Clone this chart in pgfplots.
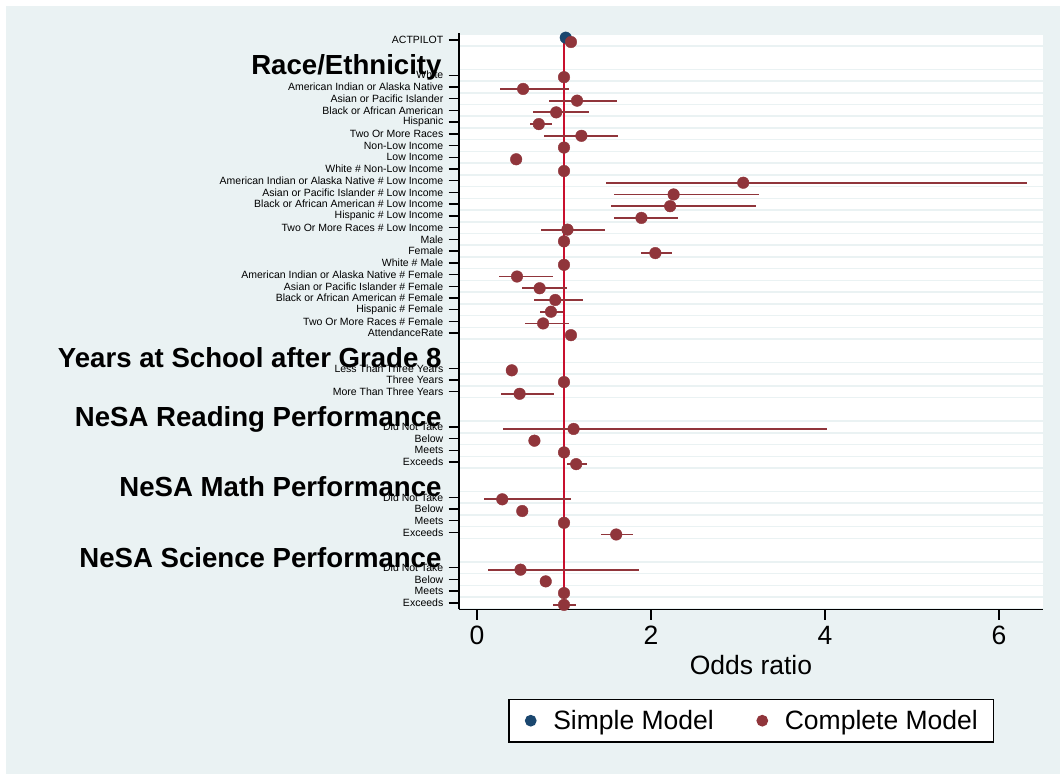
\documentclass[border=0pt]{standalone}
\usepackage{fontspec}
\setmainfont{Liberation Sans}
\usepackage{pgfplots}
\pgfplotsset{compat=1.18}
\usepackage{pgfplotstable}
\definecolor{bgc}{RGB}{234,242,243}
\definecolor{snavy}{RGB}{26,71,111}
\definecolor{smaroon}{RGB}{144,53,59}
\definecolor{refred}{RGB}{200,16,46}

% Complete model: odds ratio x, row position y, CI as plus/minus
\pgfplotstableread{
x     y       ep    em
1.08  -0.17   0     0
1.00  -3.17   0     0
0.53  -4.17   0.53  0.27
1.15  -5.17   0.46  0.32
0.91  -6.17   0.38  0.27
0.71  -7.17   0.15  0.10
1.20  -8.17   0.42  0.43
1.00  -9.17   0     0
0.45  -10.17  0     0
1.00  -11.17  0     0
3.06  -12.17  3.26  1.58
2.26  -13.17  0.98  0.69
2.22  -14.17  0.99  0.68
1.89  -15.17  0.42  0.32
1.04  -16.17  0.43  0.30
1.00  -17.17  0     0
2.05  -18.17  0.19  0.16
1.00  -19.17  0     0
0.46  -20.17  0.41  0.21
0.72  -21.17  0.31  0.20
0.90  -22.17  0.32  0.24
0.85  -23.17  0.14  0.13
0.76  -24.17  0.30  0.21
1.08  -25.17  0     0
0.40  -28.17  0     0
1.00  -29.17  0     0
0.49  -30.17  0.39  0.21
1.11  -33.17  2.91  0.81
0.66  -34.17  0     0
1.00  -35.17  0     0
1.14  -36.17  0.13  0.11
0.29  -39.17  0.79  0.21
0.52  -40.17  0     0
1.00  -41.17  0     0
1.60  -42.17  0.19  0.18
0.50  -45.17  1.36  0.37
0.79  -46.17  0     0
1.00  -47.17  0     0
1.00  -48.17  0.14  0.13
}\complete

\begin{document}
\begin{tikzpicture}[x=1pt,y=1pt]
\useasboundingbox (0,0) rectangle (1060,774);
\fill[white] (0,0) rectangle (1060,774);
\fill[bgc] (6,0) rectangle (1060,768);
\begin{axis}[
  at={(459pt,164.7pt)}, anchor=south west,
  scale only axis, width=584pt, height=576.3pt,
  xmin=-0.207, xmax=6.506, ymin=-48.55, ymax=0.6,
  axis lines*=left,
  axis line style={line width=1.4pt, black, -},
  tick style={line width=1.4pt, black},
  tick align=outside,
  major tick length=10.3pt,
  minor tick length=0pt,
  xtick={0,2,4,6},
  ytick={0,-3,-4,...,-25,-28,-29,-30,-33,-34,-35,-36,-39,-40,-41,-42,-45,-46,-47,-48},
  yticklabels={ACTPILOT,White,American Indian or Alaska Native,Asian or Pacific Islander,Black or African American,Hispanic,Two Or More Races,Non-Low Income,Low Income,White \# Non-Low Income,American Indian or Alaska Native \# Low Income,Asian or Pacific Islander \# Low Income,Black or African American \# Low Income,Hispanic \# Low Income,Two Or More Races \# Low Income,Male,Female,White \# Male,American Indian or Alaska Native \# Female,Asian or Pacific Islander \# Female,Black or African American \# Female,Hispanic \# Female,Two Or More Races \# Female,AttendanceRate,Less Than Three Years,Three Years,More Than Three Years,Did Not Take,Below,Meets,Exceeds,Did Not Take,Below,Meets,Exceeds,Did Not Take,Below,Meets,Exceeds},
  minor ytick={0.5,-0.5,-2.5,-3.5,...,-25.5,-27.5,-28.5,-29.5,-30.5,-32.5,-33.5,-34.5,-35.5,-36.5,-38.5,-39.5,-40.5,-41.5,-42.5,-44.5,-45.5,-46.5,-47.5,-48.5},
  yminorgrids=true,
  minor grid style={bgc, line width=1.5pt},
  axis background/.style={fill=white},
  /pgf/number format/assume math mode=true,
  x tick label style={font=\fontsize{26.5}{26.5}\selectfont, yshift=-3pt},
  y tick label style={font=\fontsize{10.5}{10.5}\selectfont, xshift=-1.9pt},
  xlabel={Odds ratio},
  xlabel style={font=\fontsize{26.5}{26.5}\selectfont, at={(axis description cs:0.5,-0.114)}, anchor=base},
  legend columns=2,
  legend image code/.code={\fill[#1] (0pt,0pt) circle (5.2pt);},
  legend style={at={(axis description cs:0.5006,-0.1933)}, anchor=center,
    draw=black, line width=1.3pt, fill=white,
    font=\fontsize{26.5}{26.5}\selectfont,
    inner xsep=16pt, inner ysep=11pt,
    nodes={inner sep=0pt},
    /tikz/every odd column/.append style={column sep=16.7pt},
    /tikz/every even column/.append style={column sep=42.6pt}},
]
\addplot[refred, line width=2pt, forget plot] coordinates {(1,0.2) (1,-48.55)};
\addplot[only marks, mark=*, mark size=5.8pt, color=snavy] coordinates {(1.02,0.2)};
\addlegendentry{Simple Model}
\addplot[only marks, mark=*, mark size=5.8pt, color=smaroon,
  error bars/.cd, x dir=both, x explicit, error mark=none,
  error bar style={line width=1.8pt, color=smaroon}]
  table[x=x, y=y, x error plus=ep, x error minus=em] {\complete};
\addlegendentry{Complete Model}
\coordinate (h1) at (axis cs:-0.207,-2.98);
\coordinate (h2) at (axis cs:-0.207,-27.95);
\coordinate (h3) at (axis cs:-0.207,-32.95);
\coordinate (h4) at (axis cs:-0.207,-38.95);
\coordinate (h5) at (axis cs:-0.207,-44.95);
\end{axis}
\begin{scope}[every node/.style={anchor=base east, inner sep=0pt, xshift=-17.3pt, font=\bfseries\fontsize{27.6}{27.6}\selectfont}]
\node at (h1) {Race/Ethnicity};
\node at (h2) {Years at School after Grade 8};
\node at (h3) {NeSA Reading Performance};
\node at (h4) {NeSA Math Performance};
\node at (h5) {NeSA Science Performance};
\end{scope}
\end{tikzpicture}
\end{document}
